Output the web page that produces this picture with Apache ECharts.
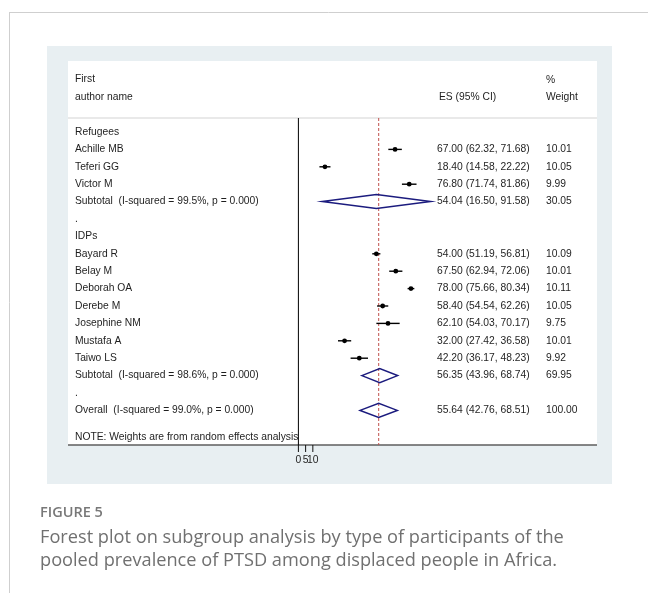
<!DOCTYPE html>
<html>
<head>
<meta charset="utf-8">
<script src="https://cdn.jsdelivr.net/npm/echarts@6/dist/echarts.min.js"></script>
<style>
  html, body { margin: 0; padding: 0; background: #ffffff; }
  #chart { width: 648px; height: 593px; }
</style>
</head>
<body>
<div id="chart"></div>
<script>
// ---- Forest plot data: PTSD prevalence (%) by participant type ----
const rowLabels = [
  'Refugees',
  'Achille MB',
  'Teferi GG',
  'Victor M',
  'Subtotal  (I-squared = 99.5%, p = 0.000)',
  '.',
  'IDPs',
  'Bayard R',
  'Belay M',
  'Deborah OA',
  'Derebe M',
  'Josephine NM',
  'Mustafa A',
  'Taiwo LS',
  'Subtotal  (I-squared = 98.6%, p = 0.000)',
  '.',
  'Overall  (I-squared = 99.0%, p = 0.000)'
];
const rowKinds = [
  'group', 'study', 'study', 'study', 'pooled', 'blank',
  'group', 'study', 'study', 'study', 'study', 'study', 'study', 'study', 'pooled', 'blank',
  'overall'
];
const esValues = [null, 67.00, 18.40, 76.80, 54.04, null, null, 54.00, 67.50, 78.00, 58.40, 62.10, 32.00, 42.20, 56.35, null, 55.64];
const ciLower  = [null, 62.32, 14.58, 71.74, 16.50, null, null, 51.19, 62.94, 75.66, 54.54, 54.03, 27.42, 36.17, 43.96, null, 42.76];
const ciUpper  = [null, 71.68, 22.22, 81.86, 91.58, null, null, 56.81, 72.06, 80.34, 62.26, 70.17, 36.58, 48.23, 68.74, null, 68.51];
const weights  = [null, 10.01, 10.05, 9.99, 30.05, null, null, 10.09, 10.01, 10.11, 10.05, 9.75, 10.01, 9.92, 69.95, null, 100.00];
const xTicks = [0, 5, 10];
const xTickLabels = ['0', '5', '10'];
const noteText = 'NOTE: Weights are from random effects analysis';
const headerLeft = ['First', 'author name'];
const headerEs = 'ES (95% CI)';
const headerWeight = ['%', 'Weight'];
const captionTitle = 'FIGURE 5';
const captionLines = [
  'Forest plot on subgroup analysis by type of participants of the',
  'pooled prevalence of PTSD among displaced people in Africa.'
];

// ---- layout (pixels) ----
const ROW_H = 17.4, FIRST_ROW_Y = 132;
const BOX = { x1: 68, y1: 61, x2: 597, y2: 445 };
const HEADER_LINE_Y = 118;
const ZERO_X = 298.4, PX_PER_UNIT = 1.443, X_MAX = 100;
const PLOT_W = X_MAX * PX_PER_UNIT;
const TEXT_X = 75, ES_X = 437, WEIGHT_X = 546;
const FS = 10.3;
const TICK_LEN = 7, TICK_LABEL_GAP = 10;
const rowAt = y => (y - FIRST_ROW_Y) / ROW_H;
const Y_MIN = rowAt(BOX.y1), Y_MAX = rowAt(BOX.y2), Y_HEAD = rowAt(HEADER_LINE_Y);
const NOTE_ROW = rowAt(437);
const TABLE_FONT = '"Liberation Sans", Arial, sans-serif';
const CAPTION_FONT = '"Open Sans", "Noto Sans", sans-serif';
const TEXT_COLOR = '#1e1e1e';
const overallIdx = rowKinds.indexOf('overall');

const studyData = [];
const pooledData = [];
rowKinds.forEach((k, i) => {
  if (k === 'study') studyData.push([ciLower[i], ciUpper[i], esValues[i], i]);
  if (k === 'pooled' || k === 'overall') pooledData.push([ciLower[i], ciUpper[i], esValues[i], i]);
});
const labelRows = rowLabels.map((_, i) => i).concat([NOTE_ROW]);
const esRows = rowKinds.map((k, i) => (esValues[i] != null ? i : null)).filter(v => v != null);
const fmt = v => v.toFixed(2);

const chart = echarts.init(document.getElementById('chart'), null, { renderer: 'canvas' });

const tableText = (x, y, text) => ({
  type: 'text', z: 5,
  style: { x, y, text, fontSize: FS, fontFamily: TABLE_FONT, fill: TEXT_COLOR, verticalAlign: 'middle' }
});

const option = {
  animation: false,
  backgroundColor: '#ffffff',
  grid: { left: ZERO_X, top: BOX.y1, width: PLOT_W, height: BOX.y2 - BOX.y1, containLabel: false },
  xAxis: {
    type: 'value', min: 0, max: X_MAX,
    axisLine: { show: false, onZero: false }, splitLine: { show: false },
    axisTick: { show: false }, axisLabel: { show: false }
  },
  yAxis: [{
    type: 'value', inverse: true, min: Y_MIN, max: Y_MAX, position: 'left',
    axisLine: { show: false, onZero: false }, axisTick: { show: false }, splitLine: { show: false },
    axisLabel: {
      customValues: labelRows, align: 'left', margin: ZERO_X - TEXT_X,
      fontSize: FS, color: TEXT_COLOR, fontFamily: TABLE_FONT, hideOverlap: false,
      formatter: v => (Math.abs(v - NOTE_ROW) < 1e-6 ? noteText : rowLabels[Math.round(v)])
    }
  }, {
    type: 'value', inverse: true, min: Y_MIN, max: Y_MAX, position: 'right',
    axisLine: { show: false, onZero: false }, axisTick: { show: false }, splitLine: { show: false },
    axisLabel: {
      customValues: esRows, align: 'left', margin: ES_X - (ZERO_X + PLOT_W), hideOverlap: false,
      fontSize: FS, color: TEXT_COLOR, fontFamily: TABLE_FONT,
      formatter: v => {
        const i = Math.round(v);
        return '{a|' + fmt(esValues[i]) + ' (' + fmt(ciLower[i]) + ', ' + fmt(ciUpper[i]) + ')}{b|' + fmt(weights[i]) + '}';
      },
      rich: {
        a: { width: WEIGHT_X - ES_X, fontSize: FS, color: TEXT_COLOR, fontFamily: TABLE_FONT },
        b: { fontSize: FS, color: TEXT_COLOR, fontFamily: TABLE_FONT }
      }
    }
  }],
  series: [
    {
      // null line at zero
      type: 'line', silent: true, symbol: 'none', z: 3,
      data: [[0, Y_HEAD], [0, Y_MAX]],
      lineStyle: { color: '#000', width: 1 }
    },
    {
      // overall estimate reference line
      type: 'line', silent: true, symbol: 'none', z: 3,
      data: [[esValues[overallIdx], Y_HEAD], [esValues[overallIdx], Y_MAX]],
      lineStyle: { color: '#c0504d', width: 1, type: [3, 2] }
    },
    {
      // x scale tick marks and their labels under the plot box
      type: 'custom', silent: true, z: 4,
      data: xTicks.map((v, i) => [v, i]),
      renderItem: (params, api) => {
        const p = api.coord([api.value(0), Y_MAX]);
        return {
          type: 'group',
          children: [
            { type: 'line', shape: { x1: p[0], y1: p[1], x2: p[0], y2: p[1] + TICK_LEN }, style: { stroke: '#111', lineWidth: 1 } },
            { type: 'text', style: { x: p[0], y: p[1] + TICK_LABEL_GAP, text: xTickLabels[api.value(1)], fontSize: FS, fontFamily: TABLE_FONT, fill: TEXT_COLOR, align: 'center', verticalAlign: 'top' } }
          ]
        };
      }
    },
    {
      // individual studies: CI whisker + point estimate
      type: 'custom', silent: true, z: 4,
      data: studyData,
      renderItem: (params, api) => {
        const lo = api.coord([api.value(0), api.value(3)]);
        const hi = api.coord([api.value(1), api.value(3)]);
        const c = api.coord([api.value(2), api.value(3)]);
        return {
          type: 'group',
          children: [
            { type: 'line', shape: { x1: lo[0], y1: lo[1], x2: hi[0], y2: hi[1] }, style: { stroke: '#000', lineWidth: 1.4 } },
            { type: 'circle', shape: { cx: c[0], cy: c[1], r: 2.4 }, style: { fill: '#000' } }
          ]
        };
      }
    },
    {
      // pooled estimates as diamonds
      type: 'custom', silent: true, z: 4,
      data: pooledData,
      renderItem: (params, api) => {
        const lo = api.coord([api.value(0), api.value(3)]);
        const hi = api.coord([api.value(1), api.value(3)]);
        const c = api.coord([api.value(2), api.value(3)]);
        const h = 7;
        return {
          type: 'polygon',
          shape: { points: [[lo[0], lo[1]], [c[0], c[1] - h], [hi[0], hi[1]], [c[0], c[1] + h]] },
          style: { fill: 'rgba(255,255,255,0)', stroke: '#1b1b7e', lineWidth: 1.5 }
        };
      }
    }
  ],
  graphic: [
    // page frame
    { type: 'line', z: -20, shape: { x1: 9, y1: 12.5, x2: 648, y2: 12.5 }, style: { stroke: '#cfcfcf', lineWidth: 1 } },
    { type: 'line', z: -20, shape: { x1: 9.5, y1: 12, x2: 9.5, y2: 593 }, style: { stroke: '#cfcfcf', lineWidth: 1 } },
    // figure panel and plot box
    { type: 'rect', z: -20, shape: { x: 47, y: 46, width: 565, height: 438 }, style: { fill: '#e8eff2' } },
    { type: 'rect', z: -19, shape: { x: BOX.x1, y: BOX.y1, width: BOX.x2 - BOX.x1, height: BOX.y2 - BOX.y1 }, style: { fill: '#ffffff' } },
    { type: 'line', z: 1, shape: { x1: BOX.x1, y1: HEADER_LINE_Y, x2: BOX.x2, y2: HEADER_LINE_Y }, style: { stroke: '#d4d4d4', lineWidth: 1.2 } },
    { type: 'line', z: 1, shape: { x1: BOX.x1, y1: BOX.y2, x2: BOX.x2, y2: BOX.y2 }, style: { stroke: '#5e5e5e', lineWidth: 1.6 } },
    // table header
    tableText(TEXT_X, 79, headerLeft[0]),
    tableText(TEXT_X, 97, headerLeft[1]),
    tableText(ES_X + 2, 97, headerEs),
    tableText(WEIGHT_X, 80, headerWeight[0]),
    tableText(WEIGHT_X, 97, headerWeight[1]),
    // caption
    { type: 'text', z: 5, style: { x: 40, y: 513, text: captionTitle, fontSize: 14.5, fontWeight: 600, fontFamily: CAPTION_FONT, fill: '#787878', verticalAlign: 'middle' } },
    { type: 'text', z: 5, style: { x: 40, y: 538, text: captionLines[0], fontSize: 18.2, fontFamily: CAPTION_FONT, fill: '#707070', verticalAlign: 'middle' } },
    { type: 'text', z: 5, style: { x: 40, y: 561, text: captionLines[1], fontSize: 18.2, fontFamily: CAPTION_FONT, fill: '#707070', verticalAlign: 'middle' } }
  ]
};

chart.setOption(option);
</script>
</body>
</html>
